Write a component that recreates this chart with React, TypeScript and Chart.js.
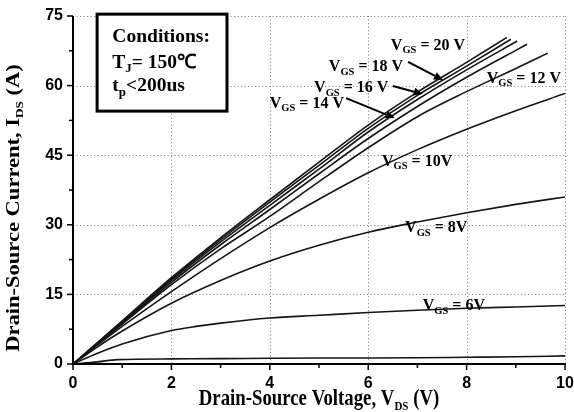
import React, { useEffect, useRef } from 'react';
import { Chart, registerables } from 'chart.js';

Chart.register(...registerables);

// ---- axis ticks ----
const xTickValues = [0, 2, 4, 6, 8, 10];
const xMinorValues = [1, 3, 5, 7, 9];
const yTickValues = [0, 15, 30, 45, 60, 75];
const yMinorValues = [7.5, 22.5, 37.5, 52.5, 67.5];

// ---- curves (VDS in V, IDS in A) ----
const x20 = [0, 1, 2, 3, 4, 5, 6, 7, 8, 8.82];
const i20 = [0, 9.3, 18.6, 27.2, 35.4, 43.5, 51.5, 58.6, 65.0, 70.4];
const x18 = [0, 1, 2, 3, 4, 5, 6, 7, 8, 8.9];
const i18 = [0, 9.1, 18.3, 26.8, 34.9, 42.8, 50.8, 57.9, 64.2, 70.0];
const x16 = [0, 1, 2, 3, 4, 5, 6, 7, 8, 9.03];
const i16 = [0, 9.0, 18.0, 26.3, 34.2, 42.0, 50.0, 57.0, 63.4, 69.6];
const x14 = [0, 1, 2, 3, 4, 5, 6, 7, 8, 9, 9.23];
const i14 = [0, 8.8, 17.6, 25.7, 33.3, 41.0, 48.6, 55.5, 61.8, 67.6, 68.9];
const x12 = [0, 1, 2, 3, 4, 5, 6, 7, 8, 9, 9.65];
const i12 = [0, 8.6, 17.1, 24.8, 31.8, 39.3, 46.6, 53.3, 58.7, 63.7, 67.0];
const xFull = [0, 0.5, 1, 2, 3, 4, 5, 6, 7, 8, 9, 10];
const i10 = [0, 4.1, 8.1, 15.6, 22.7, 29.4, 35.5, 41.2, 46.2, 50.6, 54.6, 58.3];
const i8 = [0, 3.7, 7.1, 13.1, 18.0, 22.2, 25.6, 28.4, 30.6, 32.6, 34.4, 36.0];
const x6 = [0, 0.5, 1, 2, 2.5, 3, 4, 5, 6, 7, 8, 9, 10];
const i6 = [0, 2.3, 4.3, 7.2, 8.1, 8.8, 9.9, 10.5, 11.1, 11.6, 12.0, 12.3, 12.6];
const xLow = [0, 0.5, 0.9, 2, 3, 4, 5, 6, 7, 8, 9, 10];
const iLow = [0, 0.45, 0.95, 1.1, 1.15, 1.25, 1.3, 1.3, 1.35, 1.45, 1.55, 1.75];

// ---- curve labels (data coords of text start / baseline) ----
const labelVgs = ['= 20 V', '= 18 V', '= 16 V', '= 14 V', '= 12 V', '= 10V', '= 8V', '= 6V'];
const labelX = [6.46, 5.2, 4.9, 4.0, 8.41, 6.28, 6.75, 7.11];
const labelY = [67.7, 63.1, 58.6, 55.2, 60.6, 42.7, 28.4, 11.6];

// ---- arrows (data coords) ----
const arrowFromX = [6.81, 6.5, 5.55];
const arrowFromY = [65.1, 59.9, 57.3];
const arrowToX = [7.52, 7.11, 6.54];
const arrowToY = [61.2, 58.2, 53.0];

// ---- conditions box ----
const boxX = [0.49, 3.13];
const boxY = [54.5, 75.4];
const boxTextX = 0.8;
const boxTextY = [69.4, 63.8, 58.8];

const SERIF = '"Liberation Serif", "Times New Roman", serif';
const SANS = '"Liberation Sans", Arial, sans-serif';

type Seg = { t: string; sub?: boolean };

function richWidth(ctx: CanvasRenderingContext2D, segs: Seg[], size: number, subSize: number, family: string) {
  let w = 0;
  for (const s of segs) {
    ctx.font = `bold ${s.sub ? subSize : size}px ${family}`;
    w += ctx.measureText(s.t).width;
  }
  return w;
}

function drawRich(
  ctx: CanvasRenderingContext2D,
  x: number,
  y: number,
  segs: Seg[],
  size: number,
  subSize: number,
  subDy: number,
  family: string
) {
  let cx = x;
  for (const s of segs) {
    ctx.font = `bold ${s.sub ? subSize : size}px ${family}`;
    ctx.fillText(s.t, cx, s.sub ? y + subDy : y);
    cx += ctx.measureText(s.t).width;
  }
  return cx;
}

const series = [
  { x: x20, y: i20 },
  { x: x18, y: i18 },
  { x: x16, y: i16 },
  { x: x14, y: i14 },
  { x: x12, y: i12 },
  { x: xFull, y: i10 },
  { x: xFull, y: i8 },
  { x: x6, y: i6 },
  { x: xLow, y: iLow },
];

const decor = {
  id: 'decor',
  beforeDraw(chart: any) {
    const ctx = chart.ctx as CanvasRenderingContext2D;
    ctx.save();
    ctx.fillStyle = '#fff';
    ctx.fillRect(0, 0, chart.width, chart.height);
    ctx.restore();
  },
  beforeDatasetsDraw(chart: any) {
    const ctx = chart.ctx as CanvasRenderingContext2D;
    const xs = chart.scales.x;
    const ys = chart.scales.y;
    const a = chart.chartArea;
    ctx.save();
    // dotted grid
    ctx.strokeStyle = '#8a8a8a';
    ctx.lineWidth = 1;
    ctx.setLineDash([1.2, 2.3]);
    for (const v of xTickValues) {
      if (v === 0) continue;
      const px = Math.round(xs.getPixelForValue(v)) + 0.5;
      ctx.beginPath();
      ctx.moveTo(px, a.top);
      ctx.lineTo(px, a.bottom);
      ctx.stroke();
    }
    for (const v of yTickValues) {
      if (v === 0) continue;
      const py = Math.round(ys.getPixelForValue(v)) + 0.5;
      ctx.beginPath();
      ctx.moveTo(a.left, py);
      ctx.lineTo(a.right, py);
      ctx.stroke();
    }
    ctx.setLineDash([]);
    // conditions box
    const bx0 = xs.getPixelForValue(boxX[0]);
    const bx1 = xs.getPixelForValue(boxX[1]);
    const by0 = ys.getPixelForValue(boxY[1]);
    const by1 = ys.getPixelForValue(boxY[0]);
    ctx.fillStyle = '#fff';
    ctx.fillRect(bx0, by0, bx1 - bx0, by1 - by0);
    ctx.strokeStyle = '#000';
    ctx.lineWidth = 3;
    ctx.strokeRect(bx0, by0, bx1 - bx0, by1 - by0);
    ctx.fillStyle = '#000';
    ctx.textBaseline = 'alphabetic';
    ctx.textAlign = 'left';
    const tx = xs.getPixelForValue(boxTextX);
    drawRich(ctx, tx, ys.getPixelForValue(boxTextY[0]), [{ t: 'Conditions:' }], 19.5, 13, 4, SERIF);
    drawRich(ctx, tx, ys.getPixelForValue(boxTextY[1]), [{ t: 'T' }, { t: 'J', sub: true }, { t: '= 150\u2103' }], 19.5, 13, 4, SERIF);
    drawRich(ctx, tx, ys.getPixelForValue(boxTextY[2]), [{ t: 't' }, { t: 'p', sub: true }, { t: '<200us' }], 19.5, 13, 5, SERIF);
    ctx.restore();
  },
  afterDatasetsDraw(chart: any) {
    const ctx = chart.ctx as CanvasRenderingContext2D;
    const xs = chart.scales.x;
    const ys = chart.scales.y;
    const a = chart.chartArea;
    ctx.save();
    // axes
    ctx.strokeStyle = '#000';
    ctx.lineWidth = 2;
    ctx.beginPath();
    ctx.moveTo(a.left, a.top);
    ctx.lineTo(a.left, a.bottom);
    ctx.lineTo(a.right + 1, a.bottom);
    ctx.stroke();
    ctx.lineWidth = 1.5;
    for (const v of xTickValues) {
      const px = xs.getPixelForValue(v);
      ctx.beginPath();
      ctx.moveTo(px, a.bottom);
      ctx.lineTo(px, a.bottom + 6);
      ctx.stroke();
    }
    for (const v of xMinorValues) {
      const px = xs.getPixelForValue(v);
      ctx.beginPath();
      ctx.moveTo(px, a.bottom);
      ctx.lineTo(px, a.bottom + 4);
      ctx.stroke();
    }
    for (const v of yTickValues) {
      const py = ys.getPixelForValue(v);
      ctx.beginPath();
      ctx.moveTo(a.left, py);
      ctx.lineTo(a.left - 6, py);
      ctx.stroke();
    }
    for (const v of yMinorValues) {
      const py = ys.getPixelForValue(v);
      ctx.beginPath();
      ctx.moveTo(a.left, py);
      ctx.lineTo(a.left - 4, py);
      ctx.stroke();
    }
    // curve labels
    ctx.fillStyle = '#000';
    ctx.textAlign = 'left';
    ctx.textBaseline = 'alphabetic';
    labelVgs.forEach((txt, i) => {
      const px = xs.getPixelForValue(labelX[i]);
      const py = ys.getPixelForValue(labelY[i]);
      drawRich(ctx, px, py, [{ t: 'V' }, { t: 'GS', sub: true }, { t: ' ' + txt }], 16, 10.5, 3.5, SERIF);
    });
    // arrows
    ctx.lineWidth = 2;
    arrowFromX.forEach((fx, i) => {
      const x0 = xs.getPixelForValue(fx);
      const y0 = ys.getPixelForValue(arrowFromY[i]);
      const x1 = xs.getPixelForValue(arrowToX[i]);
      const y1 = ys.getPixelForValue(arrowToY[i]);
      const ang = Math.atan2(y1 - y0, x1 - x0);
      const hl = 9;
      const hw = 4;
      const bxp = x1 - hl * Math.cos(ang);
      const byp = y1 - hl * Math.sin(ang);
      ctx.beginPath();
      ctx.moveTo(x0, y0);
      ctx.lineTo(bxp, byp);
      ctx.stroke();
      ctx.beginPath();
      ctx.moveTo(x1, y1);
      ctx.lineTo(bxp + hw * Math.sin(ang), byp - hw * Math.cos(ang));
      ctx.lineTo(bxp - hw * Math.sin(ang), byp + hw * Math.cos(ang));
      ctx.closePath();
      ctx.fill();
    });
    ctx.restore();
  },
  afterDraw(chart: any) {
    const ctx = chart.ctx as CanvasRenderingContext2D;
    ctx.save();
    ctx.fillStyle = '#000';
    ctx.textAlign = 'left';
    ctx.textBaseline = 'alphabetic';
    // x title
    const xSegs: Seg[] = [{ t: 'Drain-Source Voltage, V' }, { t: 'DS', sub: true }, { t: ' (V)' }];
    const size = 18.8;
    const sub = 11;
    const wx = richWidth(ctx, xSegs, size, sub, SERIF);
    ctx.save();
    ctx.translate(319, 405);
    ctx.scale(1, 1.22);
    drawRich(ctx, -wx / 2, 0, xSegs, size, sub, 4, SERIF);
    ctx.restore();
    // y title
    const ySegs: Seg[] = [{ t: 'Drain-Source Current, I' }, { t: 'DS', sub: true }, { t: ' (A)' }];
    const wy = richWidth(ctx, ySegs, size, sub, SERIF);
    ctx.save();
    ctx.translate(19, 208);
    ctx.rotate(-Math.PI / 2);
    ctx.scale(1.2, 1);
    drawRich(ctx, -wy / 2, 0, ySegs, size, sub, 4, SERIF);
    ctx.restore();
    ctx.restore();
  },
};

export default function App() {
  const ref = useRef<HTMLCanvasElement>(null);
  useEffect(() => {
    const canvas = ref.current!;
    const chart = new Chart(canvas, {
      type: 'line',
      data: {
        datasets: series.map((s) => ({
          data: s.x.map((x, i) => ({ x, y: s.y[i] })),
          borderColor: '#151515',
          borderWidth: 1.6,
          pointRadius: 0,
          fill: false,
          cubicInterpolationMode: 'monotone' as const,
        })),
      },
      options: {
        responsive: false,
        animation: false,
        devicePixelRatio: 1,
        plugins: { legend: { display: false }, tooltip: { enabled: false } },
        layout: { padding: { top: 16, right: 9, left: 0, bottom: 0 } },
        scales: {
          x: {
            type: 'linear',
            min: 0,
            max: 10,
            grid: { display: false, drawTicks: false },
            border: { display: false },
            ticks: {
              stepSize: 2,
              color: '#000',
              padding: 10,
              font: { family: SANS, weight: 'bold', size: 16 },
            },
            afterFit: (s: any) => {
              s.height = 48;
              s.paddingLeft = 0;
              s.paddingRight = 0;
            },
          },
          y: {
            type: 'linear',
            min: 0,
            max: 75,
            grid: { display: false, drawTicks: false },
            border: { display: false },
            ticks: {
              stepSize: 15,
              color: '#000',
              padding: 10,
              font: { family: SANS, weight: 'bold', size: 16 },
            },
            afterFit: (s: any) => {
              s.width = 73;
              s.paddingTop = 0;
              s.paddingBottom = 0;
            },
          },
        },
      } as any,
      plugins: [decor],
    });
    return () => chart.destroy();
  }, []);
  return (
    <div style={{ position: 'absolute', left: 0, top: 0, width: 574, height: 412, background: '#fff' }}>
      <canvas ref={ref} width={574} height={412} style={{ display: 'block', width: 574, height: 412 }} />
    </div>
  );
}
